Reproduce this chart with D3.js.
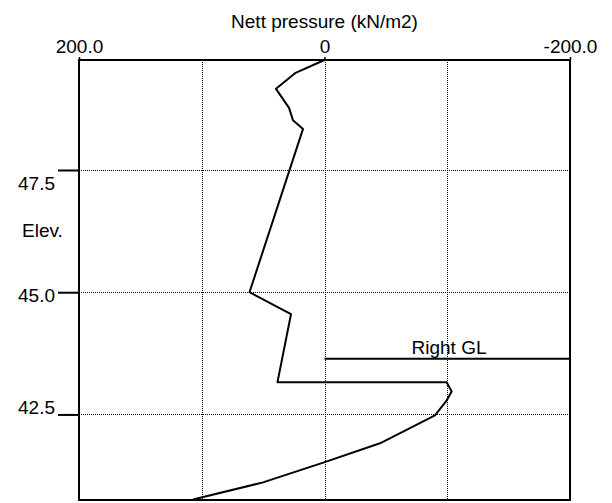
<!DOCTYPE html>
<html>
<head>
<meta charset="utf-8">
<script src="https://cdn.jsdelivr.net/npm/d3@7"></script>
<style>
body { margin: 0; background: white; }
text { font-family: "Liberation Sans", Arial, sans-serif; font-size: 19px; fill: #000; }
</style>
</head>
<body>
<div class="chart"></div>
<script>
// nett pressure (kN/m2) against elevation
var pressure = [0, 24, 39.5, 34.6, 28.9, 25.7, 17.5, 61.1, 27.3, 38.3,
    -99.5, -103.6, -99.6, -90, -45.2, 0.4, 50.1, 107.1];
var elevation = [49.75, 49.48, 49.16, 48.98, 48.77, 48.52, 48.34, 45.0, 44.55, 43.16,
    43.16, 42.97, 42.79, 42.48, 41.91, 41.52, 41.11, 40.76];

var xTicks = [200, 0, -200];
var xGrid = [100, 0, -100];
var yTicks = [47.5, 45.0, 42.5];
var rightGL = 43.64;

var width = 612, height = 503;
var plotLeft = 79, plotRight = 570, plotTop = 60, plotBottom = 500;

var svg = d3.select(".chart")
    .append("svg")
    .attr("width", width)
    .attr("height", height)

var x = d3.scaleLinear().domain([200, -200]).range([plotLeft, plotRight]);
var y = d3.scaleLinear().domain([40.75, 49.75]).range([plotBottom, plotTop]);

// dotted grid
svg.selectAll(".vgrid")
    .data(xGrid)
    .enter().append("line")
    .attr("x1", function(d) { return Math.round(x(d)) + 0.5; })
    .attr("x2", function(d) { return Math.round(x(d)) + 0.5; })
    .attr("y1", plotTop)
    .attr("y2", plotBottom)
    .attr("stroke", "#000")
    .attr("stroke-dasharray", "1,1")
    .style("shape-rendering", "crispEdges");

svg.selectAll(".hgrid")
    .data(yTicks)
    .enter().append("line")
    .attr("x1", plotLeft)
    .attr("x2", plotRight)
    .attr("y1", function(d) { return Math.round(y(d)) + 0.5; })
    .attr("y2", function(d) { return Math.round(y(d)) + 0.5; })
    .attr("stroke", "#000")
    .attr("stroke-dasharray", "1,1")
    .style("shape-rendering", "crispEdges");

// top axis
var xAxis = d3.axisTop(x)
    .tickValues(xTicks)
    .tickSize(3)
    .tickSizeOuter(0)
    .tickPadding(4)
    .tickFormat(function(d) { return d === 0 ? "0" : d.toFixed(1); });

var gx = svg.append("g")
    .attr("transform", "translate(0," + plotTop + ")")
    .call(xAxis);
gx.select(".domain").remove();
gx.selectAll("line").attr("stroke", "#000").attr("stroke-width", 1.5);
gx.selectAll("text").style("font-size", "19px").attr("font-family", null);

// left axis
var yAxis = d3.axisLeft(y)
    .tickValues(yTicks)
    .tickSize(21)
    .tickSizeOuter(0)
    .tickPadding(3)
    .tickFormat(function(d) { return d.toFixed(1); });

var gy = svg.append("g")
    .attr("transform", "translate(" + plotLeft + ",0)")
    .call(yAxis);
gy.select(".domain").remove();
gy.selectAll("line").attr("stroke", "#000").attr("stroke-width", 2);
gy.selectAll("text")
    .style("font-size", "19px")
    .attr("font-family", null)
    .attr("x", -24)
    .attr("dy", function(d, i) { return (19 - i * 10) + "px"; });

// frame
svg.append("rect")
    .attr("x", plotLeft)
    .attr("y", plotTop)
    .attr("width", plotRight - plotLeft)
    .attr("height", plotBottom - plotTop)
    .attr("fill", "none")
    .attr("stroke", "#000")
    .attr("stroke-width", 2);

// axis titles
svg.append("text")
    .attr("x", x(0))
    .attr("y", 28)
    .style("text-anchor", "middle")
    .text("Nett pressure (kN/m2)");

svg.append("text")
    .attr("x", 22)
    .attr("y", 237)
    .text("Elev.");

// right ground level
svg.append("line")
    .attr("x1", x(0))
    .attr("x2", x(-200))
    .attr("y1", y(rightGL))
    .attr("y2", y(rightGL))
    .attr("stroke", "#000")
    .attr("stroke-width", 2);

svg.append("text")
    .attr("x", 449)
    .attr("y", y(rightGL) - 5)
    .style("text-anchor", "middle")
    .text("Right GL");

// pressure line
var line = d3.line()
    .x(function(d) { return x(d[0]); })
    .y(function(d) { return y(d[1]); });

svg.append("path")
    .datum(d3.zip(pressure, elevation))
    .attr("d", line)
    .attr("fill", "none")
    .attr("stroke", "#000")
    .attr("stroke-width", 2)
    .attr("stroke-linejoin", "round");
</script>
</body>
</html>
